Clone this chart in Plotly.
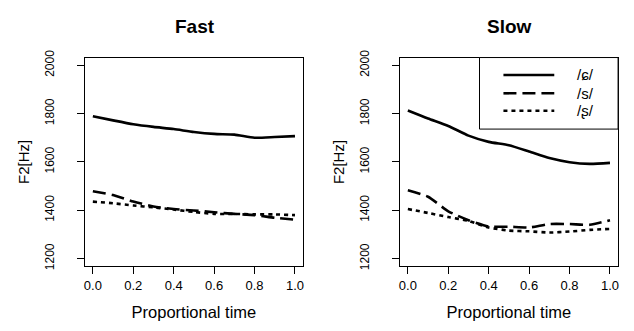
import plotly.graph_objects as go

time = [0.0, 0.1, 0.2, 0.3, 0.4, 0.5, 0.6, 0.7, 0.8, 0.9, 1.0]
labels = ["/ɕ/", "/s/", "/ʂ/"]
panels = ["Fast", "Slow"]

fast_c = [1789, 1772, 1756, 1745, 1736, 1724, 1716, 1713, 1700, 1703, 1707]
fast_s = [1479, 1463, 1436, 1416, 1405, 1399, 1392, 1385, 1380, 1369, 1361]
fast_r = [1436, 1429, 1420, 1412, 1403, 1393, 1385, 1385, 1383, 1383, 1380]

slow_c = [1813, 1780, 1749, 1709, 1683, 1669, 1643, 1616, 1599, 1592, 1596]
slow_s = [1483, 1456, 1396, 1359, 1333, 1332, 1329, 1343, 1343, 1340, 1359]
slow_r = [1405, 1389, 1372, 1356, 1329, 1316, 1313, 1308, 1312, 1319, 1323]

x_ticks = [0.0, 0.2, 0.4, 0.6, 0.8, 1.0]
y_ticks = [1200, 1400, 1600, 1800, 2000]

dashes = ["solid", "13px,6px", "4px,4px"]
FONT = "Liberation Sans, Arial, sans-serif"

fig = go.Figure()
for i, series in enumerate([[fast_c, fast_s, fast_r], [slow_c, slow_s, slow_r]]):
    for j, ys in enumerate(series):
        fig.add_trace(go.Scatter(
            x=time, y=ys, mode="lines", name=labels[j], showlegend=False,
            line=dict(color="black", width=2.6, dash=dashes[j], shape="spline", smoothing=0.6),
            xaxis="x" if i == 0 else "x2", yaxis="y" if i == 0 else "y2"))

W, H = 634, 331
dom_x = [[76 / W, 295 / W], [392 / W, 611 / W]]
dom_y = [(H - 260) / H, (H - 44) / H]

axis_common = dict(showgrid=False, zeroline=False, showline=True, mirror=True,
                   linecolor="black", linewidth=1, ticks="outside", ticklen=7,
                   tickcolor="black", tickwidth=1)

layout = dict(width=W, height=H, margin=dict(l=0, r=0, t=0, b=0),
              paper_bgcolor="white", plot_bgcolor="white",
              font=dict(family=FONT, color="black"), showlegend=False)

for i in range(2):
    xs = "" if i == 0 else "2"
    layout["xaxis" + xs] = dict(axis_common, domain=dom_x[i], range=[-0.04, 1.04],
                                tickvals=x_ticks, ticktext=["%.1f" % v for v in x_ticks],
                                anchor="y" + xs, tickfont=dict(family=FONT, size=13, color="black"),
                                title=dict(text="Proportional time", font=dict(size=16.5, family=FONT), standoff=14))
    layout["yaxis" + xs] = dict(axis_common, domain=dom_y, range=[1168, 2032],
                                tickvals=y_ticks, tickangle=-90, anchor="x" + xs,
                                ticklabelstandoff=18,
                                tickfont=dict(family=FONT, size=12, color="black"),
                                title=dict(text="F2[Hz]", font=dict(size=15, family=FONT), standoff=9))

fig.update_layout(**layout)

for i in range(2):
    cx = (dom_x[i][0] + dom_x[i][1]) / 2
    fig.add_annotation(text="<b>%s</b>" % panels[i], x=cx + 1 / W, y=1 - 12 / H, xref="paper", yref="paper",
                       showarrow=False, font=dict(size=19, family=FONT), xanchor="center", yanchor="middle")

# legend box in right panel
lx0, lx1, ly0, ly1 = 472, 611, 44, 118
fig.add_shape(type="rect", xref="paper", yref="paper", x0=lx0 / W, x1=lx1 / W,
              y0=1 - ly1 / H, y1=1 - ly0 / H, line=dict(color="black", width=1), fillcolor="white")
rows = [62, 81, 99]
for j in range(3):
    yy = 1 - rows[j] / H
    fig.add_shape(type="line", xref="paper", yref="paper", x0=496 / W, x1=547 / W, y0=yy, y1=yy,
                  line=dict(color="black", width=2.6, dash=dashes[j]))
    fig.add_annotation(text=labels[j], x=568 / W, y=yy, xref="paper", yref="paper", showarrow=False,
                       xanchor="left", yanchor="middle", font=dict(size=15, family=FONT))

fig.write_html("out.html")
